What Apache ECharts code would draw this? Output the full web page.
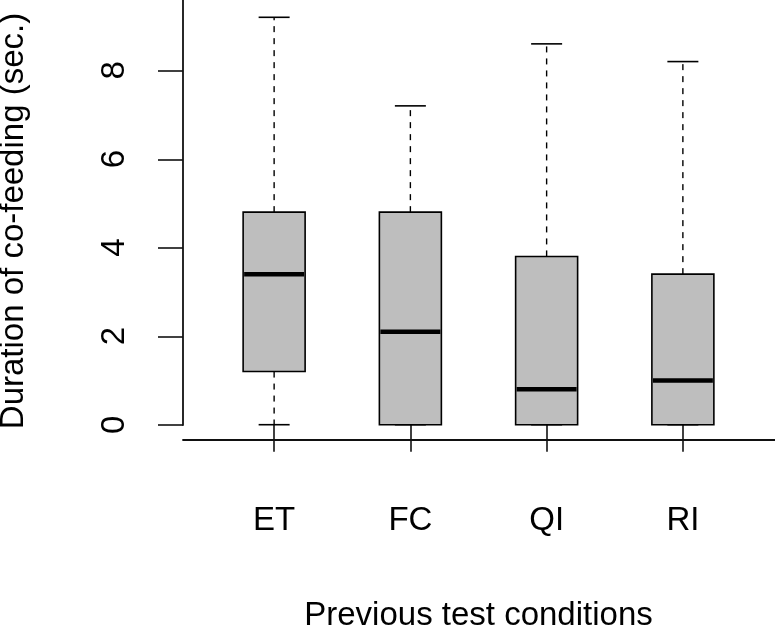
<!DOCTYPE html>
<html>
<head>
<meta charset="utf-8">
<script src="https://cdn.jsdelivr.net/npm/echarts@6/dist/echarts.min.js"></script>
<style>
html,body{margin:0;padding:0;background:#fff;}
#chart{width:775px;height:632px;}
</style>
</head>
<body>
<div id="chart"></div>
<script>
// ---- data ----
const categories = ['ET', 'FC', 'QI', 'RI'];
const whiskerLow  = [0.0, 0.0, 0.0, 0.0];
const q1          = [1.2, 0.0, 0.0, 0.0];
const medians     = [3.4, 2.1, 0.8, 1.0];
const q3          = [4.8, 4.8, 3.8, 3.4];
const whiskerHigh = [9.2, 7.2, 8.6, 8.2];
const yTickValues = [0, 2, 4, 6, 8];
const yTitle = 'Duration of co-feeding (sec.)';
const xTitle = 'Previous test conditions';

const FONT = '"Liberation Sans", Arial, Helvetica, sans-serif';
const FS = 33;

const boxData = categories.map((c, i) => [i, whiskerLow[i], q1[i], medians[i], q3[i], whiskerHigh[i]]);

const chart = echarts.init(document.getElementById('chart'), null, {renderer: 'canvas'});

function renderBox(params, api) {
  const idx = api.value(0);
  const lo = api.value(1), b1 = api.value(2), md = api.value(3), b3 = api.value(4), hi = api.value(5);
  const band = api.size([1, 0])[0];
  const halfW = band * 0.455 / 2;
  const capHalf = halfW / 2;
  const pLo = api.coord([idx, lo]);
  const pQ1 = api.coord([idx, b1]);
  const pMd = api.coord([idx, md]);
  const pQ3 = api.coord([idx, b3]);
  const pHi = api.coord([idx, hi]);
  const x = pMd[0];
  const lineStyle = {stroke: '#000', lineWidth: 1.6, fill: null};
  const dashed = {stroke: '#000', lineWidth: 1.4, lineDash: [6, 6], fill: null};
  const children = [];
  children.push({type: 'line', shape: {x1: x, y1: pQ3[1], x2: x, y2: pHi[1]}, style: dashed});
  if (b1 > lo) {
    children.push({type: 'line', shape: {x1: x, y1: pQ1[1], x2: x, y2: pLo[1]}, style: dashed});
  }
  children.push({type: 'line', shape: {x1: x - capHalf, y1: pHi[1], x2: x + capHalf, y2: pHi[1]}, style: lineStyle});
  children.push({type: 'line', shape: {x1: x - capHalf, y1: pLo[1], x2: x + capHalf, y2: pLo[1]}, style: lineStyle});
  children.push({type: 'rect', shape: {x: x - halfW, y: pQ3[1], width: 2 * halfW, height: pQ1[1] - pQ3[1]},
    style: {fill: '#bebebe', stroke: '#000', lineWidth: 1.6}});
  children.push({type: 'line', shape: {x1: x - halfW + 1, y1: pMd[1], x2: x + halfW - 1, y2: pMd[1]},
    style: {stroke: '#000', lineWidth: 4.5}});
  return {type: 'group', children: children};
}

const AXIS_COLOR = '#111';

const option = {
  backgroundColor: '#fff',
  animation: false,
  grid: [
    {left: 206, right: 24, top: 1, bottom: 191, containLabel: false, outerBoundsMode: 'none'},
    {left: 183, right: 0, top: -17.83, bottom: 207, containLabel: false, outerBoundsMode: 'none'}
  ],
  xAxis: [
    {
      type: 'category', gridIndex: 0, data: categories, boundaryGap: true,
      axisLine: {show: false},
      axisTick: {show: true, alignWithLabel: true, length: 27, lineStyle: {color: AXIS_COLOR, width: 1.6}},
      axisLabel: {color: '#000', fontSize: FS, fontFamily: FONT, margin: 63},
      splitLine: {show: false},
      name: xTitle, nameLocation: 'middle', nameGap: 158,
      nameTextStyle: {color: '#000', fontSize: FS, fontFamily: FONT}
    },
    {
      type: 'value', gridIndex: 1, min: 0, max: 1, offset: 15,
      axisLine: {show: true, onZero: false, lineStyle: {color: AXIS_COLOR, width: 1.8}},
      axisTick: {show: false}, axisLabel: {show: false}, splitLine: {show: false}
    }
  ],
  yAxis: [
    {
      type: 'value', gridIndex: 0, min: -0.368, max: 9.568, offset: 23,
      axisLine: {show: false},
      axisTick: {show: false},
      axisLabel: {show: true, customValues: yTickValues, rotate: 90, color: '#000', fontSize: FS, fontFamily: FONT, margin: 52},
      splitLine: {show: false},
      name: yTitle, nameLocation: 'middle', nameRotate: 90, nameGap: 153,
      nameTextStyle: {color: '#000', fontSize: FS, fontFamily: FONT}
    },
    {
      type: 'value', gridIndex: 1, min: 0, max: 10, interval: 2,
      axisLine: {show: true, onZero: false, lineStyle: {color: AXIS_COLOR, width: 1.8}},
      axisTick: {show: true, length: 25, lineStyle: {color: AXIS_COLOR, width: 1.6}},
      axisLabel: {show: false}, splitLine: {show: false}
    }
  ],
  series: [
    {
      type: 'custom', xAxisIndex: 0, yAxisIndex: 0,
      data: boxData,
      encode: {x: 0, y: [1, 2, 3, 4, 5]},
      renderItem: renderBox,
      clip: false
    }
  ]
};
chart.setOption(option);
</script>
</body>
</html>
